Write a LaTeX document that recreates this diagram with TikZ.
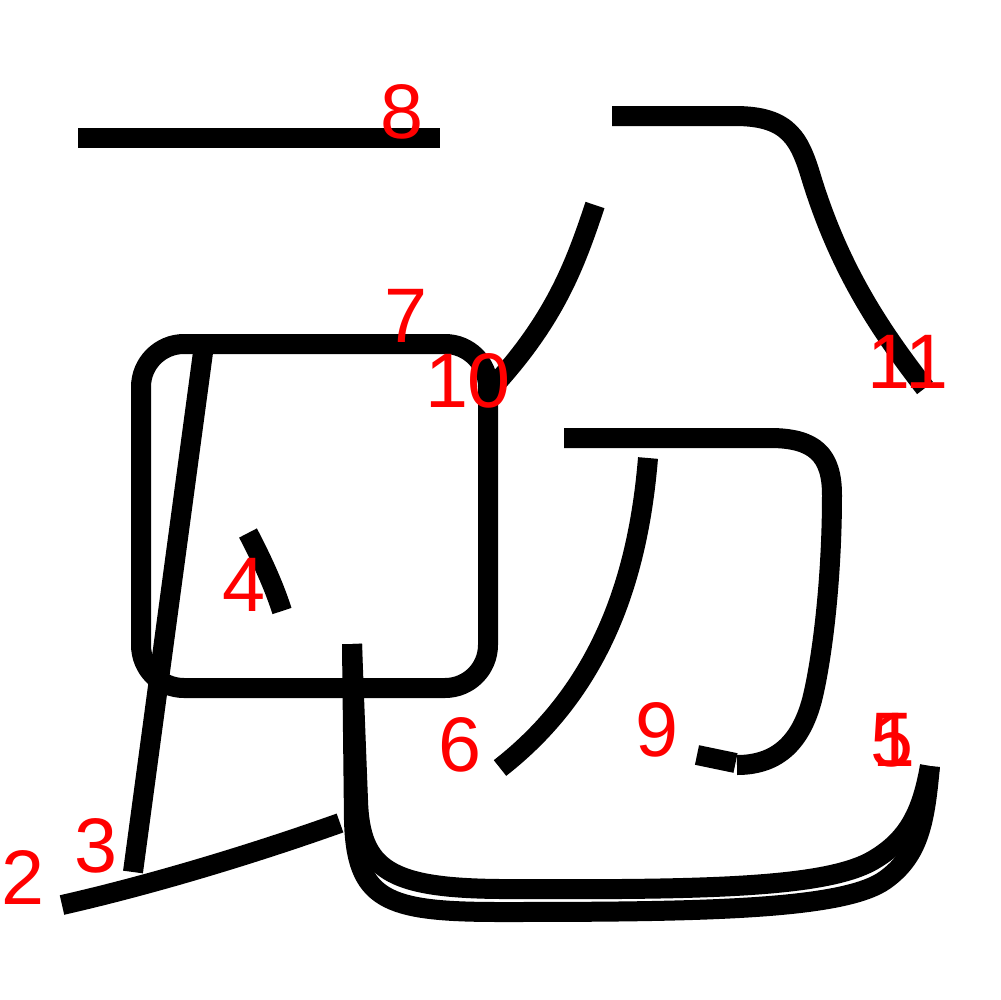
\documentclass[tikz,border=0pt]{standalone}
\usepackage{fontspec}
\setmainfont{Liberation Sans}
\begin{document}
\begin{tikzpicture}[x=0.1mm,y=-0.1mm,
  stroke/.style={draw=black,line width=2.0mm,line cap=butt,line join=round},
  lbl/.style={text=red,inner sep=0pt,anchor=center,font=\fontsize{22}{22}\selectfont}]
\useasboundingbox[fill=white] (0,0) rectangle (1000,1000);
% strokes
\draw[stroke] (78,137.5) -- (440,137.5);
\draw[stroke] (612,116) -- (735,116) .. controls (790,116) and (800,140) .. (812,180) .. controls (840,270) and (880,330) .. (925,388);
\draw[stroke] (595,205) .. controls (575,265) and (555,320) .. (490,390);
\draw[stroke,rounded corners=4.3mm] (141,344) rectangle (488,688);
\draw[stroke] (204,345) -- (133,872);
\draw[stroke] (62,905) .. controls (150,885) and (250,855) .. (340,823);
\draw[stroke] (248,533) .. controls (260,556) and (273,583) .. (282,611);
\draw[stroke] (648,458) .. controls (638,580) and (600,690) .. (500,768);
\draw[stroke] (564,438) -- (770,438) .. controls (815,438) and (832,455) .. (832,495) .. controls (832,580) and (822,660) .. (812,700) .. controls (800,745) and (775,765) .. (737,765);
\draw[stroke] (697,755) -- (735.5,763);
% inner bottom stroke
\draw[stroke] (352,644) -- (358,800) .. controls (360,870) and (390,888) .. (500,889) .. controls (700,890) and (820,888) .. (870,862) .. controls (910,840) and (922,810) .. (930,766);
% outer bottom stroke
\draw[stroke] (352,644) -- (354,820) .. controls (356,900) and (385,912) .. (500,912) .. controls (700,912) and (843,910) .. (885,880) .. controls (920,855) and (925,820) .. (930,766);
% labels
\node[lbl] (l8) at (402,112) {8};
\node[lbl] (l7) at (406,316) {7};
\node[lbl] (l10) at (468,381) {10};
\node[lbl] (l11) at (908,362) {11};
\node[lbl] (l4) at (244,585) {4};
\node[lbl] (l6) at (460,745) {6};
\node[lbl] (l9) at (657,730) {9};
\node[lbl] (l5) at (892,740) {5};
\node[lbl] (l1) at (894,740) {1};
\node[lbl] (l3) at (96,846) {3};
\node[lbl] (l2) at (23,877) {2};
\end{tikzpicture}
\end{document}
